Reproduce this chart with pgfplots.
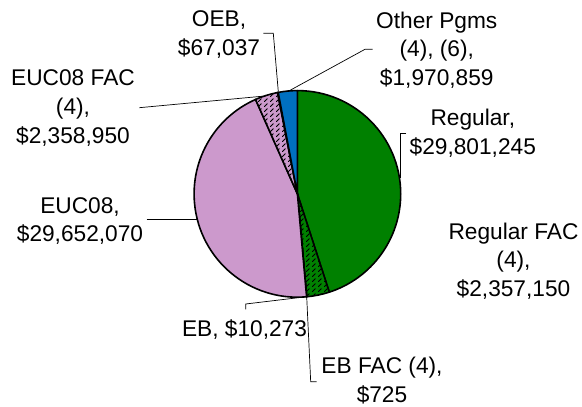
\documentclass[border=0pt]{standalone}
\usepackage{fontspec}
\setmainfont{Liberation Sans}
\usepackage{pgfplots}
\usepackage{pgfplotstable}
\pgfplotsset{compat=1.18}
\usetikzlibrary{patterns}
\definecolor{cGreen}{RGB}{0,128,0}
\definecolor{cLav}{RGB}{204,153,204}
\definecolor{cBlue}{RGB}{0,112,192}
\definecolor{cEB}{RGB}{153,51,102}
\definecolor{cOEB}{RGB}{255,255,153}
\pgfdeclarepatternformonly{dashdiag}{\pgfqpoint{-1pt}{-1pt}}{\pgfqpoint{7pt}{6pt}}{\pgfqpoint{6pt}{5pt}}{%
  \pgfsetlinewidth{0.9pt}%
  \pgfsetroundcap
  \pgfpathmoveto{\pgfqpoint{0.5pt}{0.5pt}}\pgfpathlineto{\pgfqpoint{3.2pt}{3.2pt}}%
  \pgfusepath{stroke}}

\pgfplotstableread{
label value col hatch
Regular 29801245 cGreen 0
RegularFAC 2357150 cGreen 1
EB 10273 cEB 0
EBFAC 725 cEB 1
EUC08 29652070 cLav 0
EUC08FAC 2358950 cLav 1
OEB 67037 cOEB 0
Other 1970859 cBlue 0
}\piedata

\begin{document}
\begin{tikzpicture}
\begin{axis}[
  scale only axis, width=582pt, height=407pt,
  xmin=0, xmax=582, ymin=0, ymax=407,
  hide axis, clip=false,
]
\coordinate (bl) at (axis cs:0,0);
\coordinate (tr) at (axis cs:582,407);
\pgfplotsextra{%
  \gdef\total{0}%
  \pgfplotstableforeachcolumnelement{value}\of\piedata\as\v{\xdef\total{\fpeval{\total+\v}}}%
  \gdef\cum{0}%
  \foreach \i in {0,...,7}{%
    \pgfplotstablegetelem{\i}{value}\of\piedata \let\v\pgfplotsretval
    \pgfplotstablegetelem{\i}{col}\of\piedata \let\c\pgfplotsretval
    \pgfplotstablegetelem{\i}{hatch}\of\piedata \let\h\pgfplotsretval
    \edef\sa{\fpeval{90-360*\cum/\total}}%
    \xdef\cum{\fpeval{\cum+\v}}%
    \edef\ea{\fpeval{90-360*\cum/\total}}%
    \fill[\c] (axis cs:297.4,213.1) -- ++(\sa:103.3pt) arc[start angle=\sa, end angle=\ea, radius=103.3pt] -- cycle;
    \ifnum\h=1
      \fill[pattern=dashdiag, pattern color=black] (axis cs:297.4,213.1) -- ++(\sa:103.3pt) arc[start angle=\sa, end angle=\ea, radius=103.3pt] -- cycle;
    \fi
    \draw[black, line width=1.6pt, line join=round] (axis cs:297.4,213.1) -- ++(\sa:103.3pt) arc[start angle=\sa, end angle=\ea, radius=103.3pt] -- cycle;
  }%
  % leader lines
  \draw[black, line width=0.7pt] (axis cs:263.3,373.7) -- (axis cs:273.3,373.7) -- (axis cs:278.3,315.3);
  \draw[black, line width=0.7pt] (axis cs:372.7,357.7) -- (axis cs:365,357.7) -- (axis cs:287.9,315.5);
  \draw[black, line width=0.7pt] (axis cs:406,273.7) -- (axis cs:400.3,273.7) -- (axis cs:400.3,229.3);
  \draw[black, line width=0.7pt] (axis cs:139.3,299.3) -- (axis cs:265,311);
  \draw[black, line width=0.7pt] (axis cs:146.7,187.5) -- (axis cs:197.4,187.5);
  \draw[black, line width=0.7pt] (axis cs:245.7,97.7) -- (axis cs:245.7,103) -- (axis cs:306.7,110.3);
  \draw[black, line width=0.7pt] (axis cs:316.7,25.3) -- (axis cs:310.7,25.3) -- (axis cs:306.7,110.3);
}
\tikzset{lbl/.style={align=center, inner sep=0pt, anchor=base, font=\fontsize{22.7}{28.7}\selectfont}}
\node[lbl] at (axis cs:219,351.6) {OEB,\\\$67,037};
\node[lbl] at (axis cs:436.8,321.3) {Other Pgms\\(4), (6),\\\$1,970,859};
\node[lbl] at (axis cs:472.8,252.3) {Regular,\\\$29,801,245};
\node[lbl] at (axis cs:73,263.6) {EUC08 FAC\\(4),\\\$2,358,950};
\node[lbl] at (axis cs:80,165) {EUC08,\\\$29,652,070};
\node[lbl] at (axis cs:513.5,110.3) {Regular FAC\\(4),\\\$2,357,150};
\node[lbl] at (axis cs:244.5,70.3) {EB, \$10,273};
\node[lbl] at (axis cs:382,4.6) {EB FAC (4),\\\$725};
\end{axis}
\pgfresetboundingbox
\path (bl) rectangle (tr);
\end{tikzpicture}
\end{document}
